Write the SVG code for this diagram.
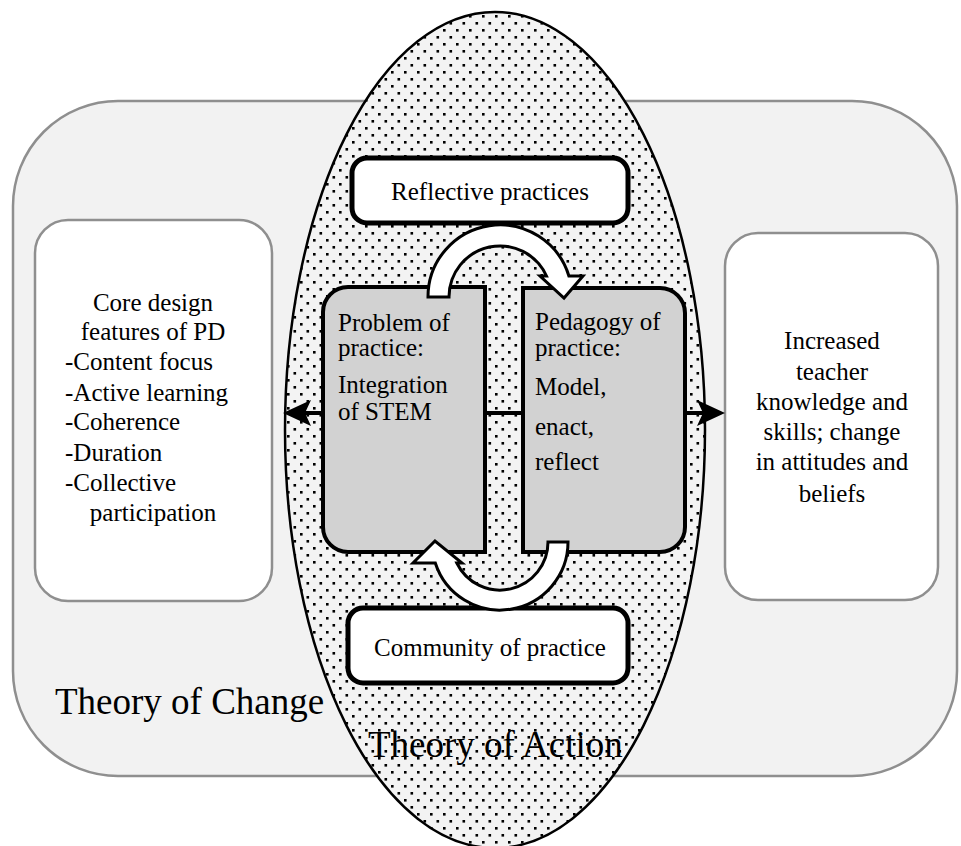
<svg xmlns="http://www.w3.org/2000/svg" width="961" height="846" viewBox="0 0 961 846">
  <defs>
    <pattern id="dots" width="13" height="14" patternUnits="userSpaceOnUse">
      <rect width="13" height="14" fill="#f3f3f3"/>
      <rect x="1" y="1" width="2.6" height="2.6" fill="#000"/>
      <rect x="7.5" y="8" width="2.6" height="2.6" fill="#000"/>
    </pattern>
    <marker id="head" viewBox="0 0 28 26" refX="6" refY="13" markerWidth="28" markerHeight="26" markerUnits="userSpaceOnUse" orient="auto-start-reverse">
      <path d="M0,0 L28,13 L0,26 L6,13 Z" fill="#000"/>
    </marker>
    <style>
      text { font-family: "Liberation Serif", "Times New Roman", serif; fill: #000; }
      .lbl { font-size: 25px; }
      .big { font-size: 37px; }
      .mid { text-anchor: middle; }
      .soft { fill: #fff; stroke: #8f8f8f; stroke-width: 2.5; }
      .core { fill: #d2d2d2; stroke: #000; stroke-width: 4; }
      .tag { fill: #fff; stroke: #000; stroke-width: 5; }
      .block { fill: #fff; stroke: #000; stroke-width: 3; stroke-linejoin: miter; }
      .link { fill: none; stroke: #000; stroke-width: 4; }
    </style>
  </defs>

  <!-- Theory of Change frame -->
  <g id="theory-of-change">
    <rect x="13" y="101" width="944" height="675" rx="105" ry="105" fill="#f2f2f2" stroke="#8f8f8f" stroke-width="2.5"/>
    <text class="big" x="55" y="714">Theory of Change</text>
  </g>

  <!-- Inputs: PD design features -->
  <g id="core-design">
    <rect class="soft" x="35" y="220" width="237" height="381" rx="33" ry="33"/>
    <text class="lbl mid" x="153" y="311">Core design</text>
    <text class="lbl mid" x="153" y="340">features of PD</text>
    <text class="lbl" x="65" y="370">-Content focus</text>
    <text class="lbl" x="65" y="401">-Active learning</text>
    <text class="lbl" x="65" y="430">-Coherence</text>
    <text class="lbl" x="65" y="461">-Duration</text>
    <text class="lbl" x="65" y="491">-Collective</text>
    <text class="lbl mid" x="153" y="521">participation</text>
  </g>

  <!-- Outcomes -->
  <g id="outcomes">
    <rect class="soft" x="725" y="233" width="213" height="367" rx="33" ry="33"/>
    <text class="lbl mid" x="832" y="349">Increased</text>
    <text class="lbl mid" x="832" y="380">teacher</text>
    <text class="lbl mid" x="832" y="410">knowledge and</text>
    <text class="lbl mid" x="832" y="440">skills; change</text>
    <text class="lbl mid" x="832" y="470">in attitudes and</text>
    <text class="lbl mid" x="832" y="502">beliefs</text>
  </g>

  <!-- Theory of Action ellipse -->
  <g id="theory-of-action">
    <ellipse cx="495" cy="430" rx="210" ry="418" fill="url(#dots)" stroke="#000" stroke-width="2.5"/>
    <text class="big" x="368" y="757">Theory of Action</text>
  </g>

  <g id="problem-of-practice">
    <path class="core" d="M348,287 H485 V552 H348 A25,25 0 0 1 323,527 V312 A25,25 0 0 1 348,287 Z"/>
    <text class="lbl" x="338" y="331">Problem of</text>
    <text class="lbl" x="338" y="356">practice:</text>
    <text class="lbl" x="338" y="393">Integration</text>
    <text class="lbl" x="338" y="420">of STEM</text>
  </g>

  <g id="pedagogy-of-practice">
    <path class="core" d="M523,288 H660 A25,25 0 0 1 685,313 V527 A25,25 0 0 1 660,552 H523 Z"/>
    <text class="lbl" x="535" y="330">Pedagogy of</text>
    <text class="lbl" x="535" y="356">practice:</text>
    <text class="lbl" x="535" y="395">Model,</text>
    <text class="lbl" x="535" y="435">enact,</text>
    <text class="lbl" x="535" y="470">reflect</text>
  </g>

  <g id="reflective-practices">
    <rect class="tag" x="352" y="158" width="276" height="65" rx="15" ry="15"/>
    <text class="lbl mid" x="490" y="200">Reflective practices</text>
  </g>

  <g id="community-of-practice">
    <rect class="tag" x="348" y="608" width="280" height="75" rx="15" ry="15"/>
    <text class="lbl mid" x="490" y="656">Community of practice</text>
  </g>

  <!-- Connectors -->
  <g id="connectors">
    <path class="link" d="M305,413 H323 M485,413 H523 M685,413 H703" marker-start="url(#head)" marker-end="url(#head)"/>
    <path class="block" d="M428,297 A72,72 0 0 1 568.9,276 L583,276 L564,298 L540,276 L546.5,276 A51,51 0 0 0 449,297 Z"/>
    <path class="block" d="M568,542 A68,68 0 0 1 435.3,563 L413,563 L435,541 L462,563 L456.8,563 A48,48 0 0 0 548,542 Z"/>
  </g>
</svg>
